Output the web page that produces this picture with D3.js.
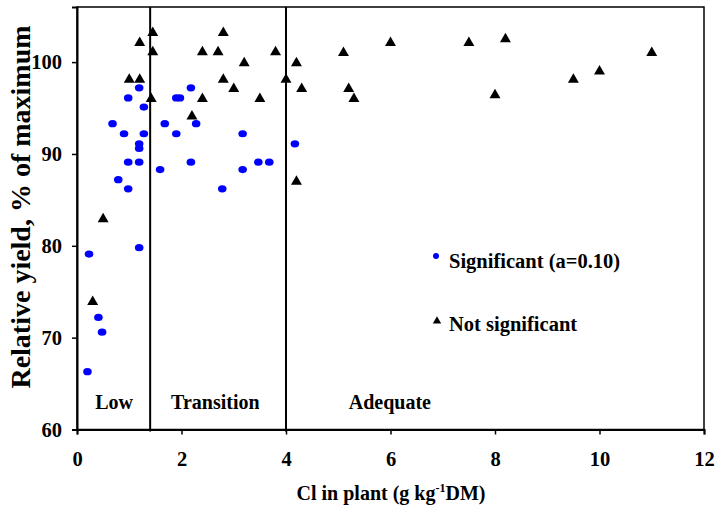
<!DOCTYPE html>
<html><head><meta charset="utf-8">
<script src="https://cdn.jsdelivr.net/npm/d3@7"></script>
<style>body{margin:0;background:#fff}svg{display:block}text{font-family:"Liberation Serif","Times New Roman",serif;font-weight:bold}</style>
</head><body><svg id="c" width="716" height="516"></svg>
<script>
// Significant (blue circles)
const sigX = [1.19,2.18,0.98,1.90,1.97,1.28,0.68,1.68,2.28,0.90,1.28,1.90,3.17,1.19,1.19,0.98,1.19,2.18,3.47,3.68,1.59,3.17,0.79,0.98,2.78,0.23,1.19,0.41,0.48,4.17,0.20];
const sigY = [97.2,97.2,96.1,96.1,96.1,95.1,93.3,93.3,93.3,92.2,92.2,92.2,92.2,91.1,90.6,89.1,89.1,89.1,89.1,89.1,88.3,88.3,87.2,86.2,86.2,79.1,79.8,72.2,70.6,91.1,66.3];
// Not significant (black triangles)
const nsX = [1.45,1.20,1.45,2.80,2.40,2.70,3.80,3.20,1.00,1.20,2.80,3.00,4.00,1.42,2.40,3.50,2.20,0.50,0.30,4.20,4.30,5.10,5.20,5.30,6.00,7.50,8.20,8.00,9.50,10.00,11.00,4.20];
const nsY = [103.2,102.1,101.1,103.2,101.1,101.1,101.1,99.9,98.1,98.1,98.1,97.1,98.1,96.0,96.0,96.0,94.1,82.9,73.9,99.9,97.1,101.0,97.1,96.0,102.1,102.1,102.5,96.4,98.1,99.0,101.0,87.0];
const xTicks = [0,2,4,6,8,10,12];
const yTicks = [60,70,80,90,100];
const zoneBounds = [1.4,4.0];
const zoneLabels = ["Low","Transition","Adequate"];
const zoneLabelX = [0.35,1.8,5.2];
const legendLabels = ["Significant (a=0.10)","Not significant"];

const svg = d3.select("#c");
const L=77,R=704,T=7,B=429.5;
const x = d3.scaleLinear().domain([0,12]).range([L,R]);
const y = d3.scaleLinear().domain([60,106]).range([B,T]);

// plot border
svg.append("rect").attr("x",L).attr("y",T).attr("width",R-L).attr("height",B-T)
  .attr("fill","none").attr("stroke","#000").attr("stroke-width",1.5);

// axes
const yAx = svg.append("g").attr("transform",`translate(${L},0)`)
  .call(d3.axisLeft(y).tickValues(yTicks).tickSize(5).tickPadding(10).tickFormat(d3.format("d")));
const xAx = svg.append("g").attr("transform",`translate(0,${B})`)
  .call(d3.axisBottom(x).tickValues(xTicks).tickSize(5).tickPadding(17).tickFormat(d3.format("d")));
[yAx,xAx].forEach(g=>{
  g.select(".domain").attr("stroke","#000").attr("stroke-width",2);
  g.selectAll(".tick line").attr("stroke","#000").attr("stroke-width",1.5);
  g.selectAll(".tick text").attr("fill","#000").style("font-size","20.5px")
   .style("font-family","'Liberation Serif',serif").style("font-weight","bold");
});

// zone lines
svg.selectAll(".zl").data(zoneBounds).join("line")
  .attr("x1",d=>x(d)).attr("x2",d=>x(d)).attr("y1",T).attr("y2",B+2)
  .attr("stroke","#000").attr("stroke-width",2);

// zone labels
svg.append("clipPath").attr("id","tc").append("rect")
  .attr("x",L).attr("y",T).attr("width",x(3.49)-L).attr("height",B-T);
svg.selectAll(".zt").data(zoneLabels).join("text")
  .attr("x",(d,i)=>x(zoneLabelX[i])).attr("y",409)
  .style("font-size","20px").attr("fill","#000")
  .attr("clip-path",(d,i)=>i===1?"url(#tc)":null)
  .text(d=>d);

// points
svg.selectAll(".sig").data(sigX.map((v,i)=>[v,sigY[i]])).join("ellipse")
  .attr("cx",d=>x(d[0])).attr("cy",d=>y(d[1])).attr("rx",4.3).attr("ry",3.6).attr("fill","#0000ff");
const tri = d3.symbol().type(d3.symbolTriangle).size(52);
svg.selectAll(".ns").data(nsX.map((v,i)=>[v,nsY[i]])).join("path")
  .attr("d",tri).attr("transform",d=>`translate(${x(d[0])},${y(d[1])})`).attr("fill","#000");

// legend
const lg = svg.append("g");
lg.append("circle").attr("cx",436).attr("cy",256).attr("r",3).attr("fill","#0000ff");
lg.append("path").attr("d",d3.symbol().type(d3.symbolTriangle).size(30)).attr("transform","translate(437,321)").attr("fill","#000");
lg.selectAll(".lt").data(legendLabels).join("text")
  .attr("x",449).attr("y",(d,i)=>i===0?268:331).style("font-size","20.5px").attr("fill","#000").text(d=>d);

// axis titles
const xt = svg.append("text").attr("x",391).attr("y",500).attr("text-anchor","middle").style("font-size","20px").attr("fill","#000");
xt.append("tspan").text("Cl in plant (g kg");
xt.append("tspan").attr("dy",-8).style("font-size","12px").text("-1");
xt.append("tspan").attr("dy",8).text("DM)");
svg.append("text").attr("transform","translate(30,207) rotate(-90)").attr("text-anchor","middle")
  .style("font-size","28px").attr("fill","#000").text("Relative yield, % of maximum");
</script></body></html>
